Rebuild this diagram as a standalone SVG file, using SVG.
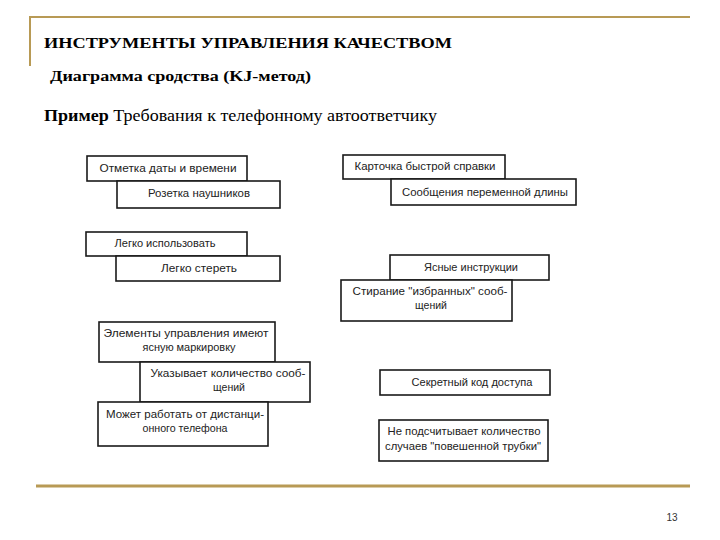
<svg xmlns="http://www.w3.org/2000/svg" width="720" height="540" viewBox="0 0 720 540">
<style>
.gold{stroke:#B89A55;fill:none}
.box{fill:#fff;stroke:#1a1a1a;stroke-width:1.6}
.t{font-family:"Liberation Sans",Arial,sans-serif;font-size:10.5px;fill:#222;text-anchor:middle}
.h{font-family:"Liberation Serif","Times New Roman",serif;fill:#000}
</style>
<rect width="720" height="540" fill="#fff"/>
<g id="frame">
<line class="gold" x1="30" y1="17" x2="690" y2="17" stroke-width="2"/>
<line class="gold" x1="30" y1="16" x2="30" y2="66" stroke-width="2"/>
<line class="gold" x1="36" y1="486" x2="690" y2="486" stroke-width="3"/>
</g>
<g id="headings">
<text class="h" x="44" y="48" font-size="15" font-weight="bold" textLength="408" lengthAdjust="spacingAndGlyphs">ИНСТРУМЕНТЫ УПРАВЛЕНИЯ КАЧЕСТВОМ</text>
<text class="h" x="50" y="81" font-size="15" font-weight="bold" textLength="261" lengthAdjust="spacingAndGlyphs">Диаграмма сродства (KJ-метод)</text>
<text class="h" x="44" y="121" font-size="16" textLength="393" lengthAdjust="spacingAndGlyphs"><tspan font-weight="bold">Пример</tspan> Требования к телефонному автоответчику</text>
<text x="672" y="521" font-family="Liberation Sans,Arial,sans-serif" font-size="10" fill="#333" text-anchor="middle">13</text>
</g>
<g id="n1"><rect class="box" x="87" y="156" width="160" height="25"/><text class="t" x="168" y="172" textLength="137" lengthAdjust="spacingAndGlyphs">Отметка даты и времени</text></g>
<g id="n2"><rect class="box" x="117" y="181" width="163" height="27"/><text class="t" x="199" y="197" textLength="102" lengthAdjust="spacingAndGlyphs">Розетка наушников</text></g>
<g id="n3"><rect class="box" x="86" y="232" width="161" height="24"/><text class="t" x="165" y="247" textLength="101" lengthAdjust="spacingAndGlyphs">Легко использовать</text></g>
<g id="n4"><rect class="box" x="116" y="256" width="164" height="25"/><text class="t" x="199" y="272" textLength="76" lengthAdjust="spacingAndGlyphs">Легко стереть</text></g>
<g id="n5"><rect class="box" x="343" y="155" width="162" height="24"/><text class="t" x="425" y="170" textLength="141" lengthAdjust="spacingAndGlyphs">Карточка быстрой справки</text></g>
<g id="n6"><rect class="box" x="391" y="179" width="185" height="26"/><text class="t" x="485" y="196" textLength="166" lengthAdjust="spacingAndGlyphs">Сообщения переменной длины</text></g>
<g id="n7"><rect class="box" x="390" y="255" width="159" height="25"/><text class="t" x="471" y="271" textLength="94" lengthAdjust="spacingAndGlyphs">Ясные инструкции</text></g>
<g id="n8"><rect class="box" x="341" y="280" width="171" height="41"/><text class="t" x="430" y="295" textLength="155" lengthAdjust="spacingAndGlyphs">Стирание "избранных" сооб-</text><text class="t" x="431" y="309">щений</text></g>
<g id="n9"><rect class="box" x="99" y="322" width="176" height="40"/><text class="t" x="186" y="337" textLength="165" lengthAdjust="spacingAndGlyphs">Элементы управления имеют</text><text class="t" x="189" y="351" textLength="93" lengthAdjust="spacingAndGlyphs">ясную маркировку</text></g>
<g id="n10"><rect class="box" x="140" y="362" width="170" height="40"/><text class="t" x="228" y="377" textLength="155" lengthAdjust="spacingAndGlyphs">Указывает количество сооб-</text><text class="t" x="229" y="391">щений</text></g>
<g id="n11"><rect class="box" x="98" y="402" width="170" height="44"/><text class="t" x="185" y="418" textLength="158" lengthAdjust="spacingAndGlyphs">Может работать от дистанци-</text><text class="t" x="185" y="432" textLength="85" lengthAdjust="spacingAndGlyphs">онного телефона</text></g>
<g id="n12"><rect class="box" x="380" y="370" width="170" height="25"/><text class="t" x="472" y="386" textLength="121" lengthAdjust="spacingAndGlyphs">Секретный код доступа</text></g>
<g id="n13"><rect class="box" x="379" y="420" width="169" height="41"/><text class="t" x="464" y="435" textLength="153" lengthAdjust="spacingAndGlyphs">Не подсчитывает количество</text><text class="t" x="463" y="450" textLength="156" lengthAdjust="spacingAndGlyphs">случаев "повешенной трубки"</text></g>
<g id="connectors"></g>
</svg>
